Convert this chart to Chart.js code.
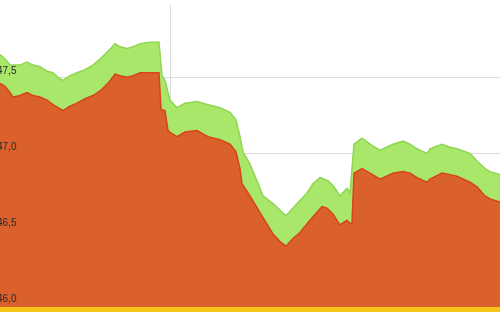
<!DOCTYPE html>
<html>
<head>
<meta charset="utf-8">
<script src="https://cdn.jsdelivr.net/npm/chart.js@4/dist/chart.umd.min.js"></script>
<style>
  html, body { margin: 0; padding: 0; background: #ffffff; overflow: hidden; }
  #wrap { position: relative; width: 500px; height: 312px; }
</style>
</head>
<body>
<div id="wrap"><canvas id="c"></canvas></div>
<script>
// time positions (arbitrary session units) and values
const upperTime = [0,5,10,15,20,27,33,40,47,53,58,63,70,77,85,93,100,108,115,120,127,133,140,150,157,159,162,165,170,177,185,197,208,220,230,236,240,243,250,255,263,273,286,293,300,307,313,320,328,334,340,347,350,354,362,370,380,393,403,410,417,427,430,442,450,457,470,477,485,490,500];
const upperValue = [47.65,47.62,47.58,47.58,47.58,47.60,47.58,47.57,47.54,47.53,47.50,47.48,47.51,47.53,47.55,47.58,47.62,47.67,47.72,47.70,47.69,47.70,47.72,47.73,47.73,47.73,47.51,47.48,47.35,47.30,47.33,47.34,47.32,47.30,47.27,47.22,47.11,47.01,46.93,46.85,46.72,46.67,46.59,46.64,46.69,46.74,46.80,46.84,46.82,46.78,46.72,46.77,46.74,47.06,47.10,47.06,47.02,47.06,47.08,47.06,47.03,47.00,47.03,47.06,47.04,47.03,47.00,46.95,46.90,46.88,46.86];
const lowerTime = [0,5,10,13,20,27,33,40,47,53,58,63,70,77,85,93,100,108,115,120,127,133,140,150,157,159,161,165,168,172,177,185,197,208,220,230,236,240,242,250,260,273,280,286,293,300,310,322,327,333,340,347,350,352,354,362,370,380,393,403,410,417,427,430,442,450,457,470,477,485,490,500];
const lowerValue = [47.46,47.44,47.40,47.37,47.38,47.40,47.38,47.37,47.35,47.32,47.30,47.28,47.31,47.33,47.36,47.38,47.41,47.46,47.52,47.51,47.50,47.51,47.53,47.53,47.53,47.53,47.29,47.28,47.15,47.13,47.11,47.14,47.15,47.11,47.09,47.06,47.01,46.90,46.80,46.72,46.61,46.47,46.42,46.39,46.44,46.48,46.56,46.65,46.64,46.60,46.53,46.56,46.54,46.54,46.87,46.90,46.87,46.83,46.87,46.88,46.87,46.84,46.81,46.83,46.87,46.86,46.85,46.81,46.78,46.72,46.70,46.68];
const yTickValues = [46.0, 46.5, 47.0, 47.5];
const xGridValues = [170];
const yMin = 45.99, yMax = 47.975;

const toPoints = (t, v) => t.map((x, i) => ({ x: x, y: v[i] }));

new Chart(document.getElementById('c'), {
  type: 'line',
  data: {
    datasets: [
      {
        label: 'low',
        data: toPoints(lowerTime, lowerValue),
        borderColor: '#d6441b',
        borderWidth: 1.5,
        backgroundColor: 'rgba(221,92,42,0.96)',
        fill: 'start',
        pointRadius: 0,
        tension: 0
      },
      {
        label: 'high',
        data: toPoints(upperTime, upperValue),
        borderColor: '#8fd651',
        borderWidth: 1.5,
        backgroundColor: 'rgba(166,230,100,0.96)',
        fill: 'start',
        pointRadius: 0,
        tension: 0
      }
    ]
  },
  options: {
    responsive: true,
    maintainAspectRatio: false,
    animation: false,
    layout: { padding: { top: -5, left: 0, right: 0, bottom: 0 } },
    plugins: { legend: { display: false }, tooltip: { enabled: false } },
    scales: {
      x: {
        type: 'linear',
        min: 0,
        max: 500,
        afterBuildTicks: (s) => { s.ticks = xGridValues.map(v => ({ value: v })); },
        ticks: { display: false },
        grid: { color: '#dcdcdc', lineWidth: 1, drawTicks: false },
        border: { display: true, color: '#f5c518', width: 13 }
      },
      y: {
        min: yMin,
        max: yMax,
        afterBuildTicks: (s) => { s.ticks = yTickValues.map(v => ({ value: v })); },
        ticks: {
          z: 1,
          mirror: true,
          padding: -1,
          labelOffset: -6,
          color: '#2a2a2a',
          font: { family: 'Liberation Sans, Arial, sans-serif', size: 10 },
          callback: (v) => Number(v).toFixed(1).replace('.', ',')
        },
        grid: { color: '#dcdcdc', lineWidth: 1, drawTicks: false },
        border: { display: false }
      }
    }
  }
});
</script>
</body>
</html>
